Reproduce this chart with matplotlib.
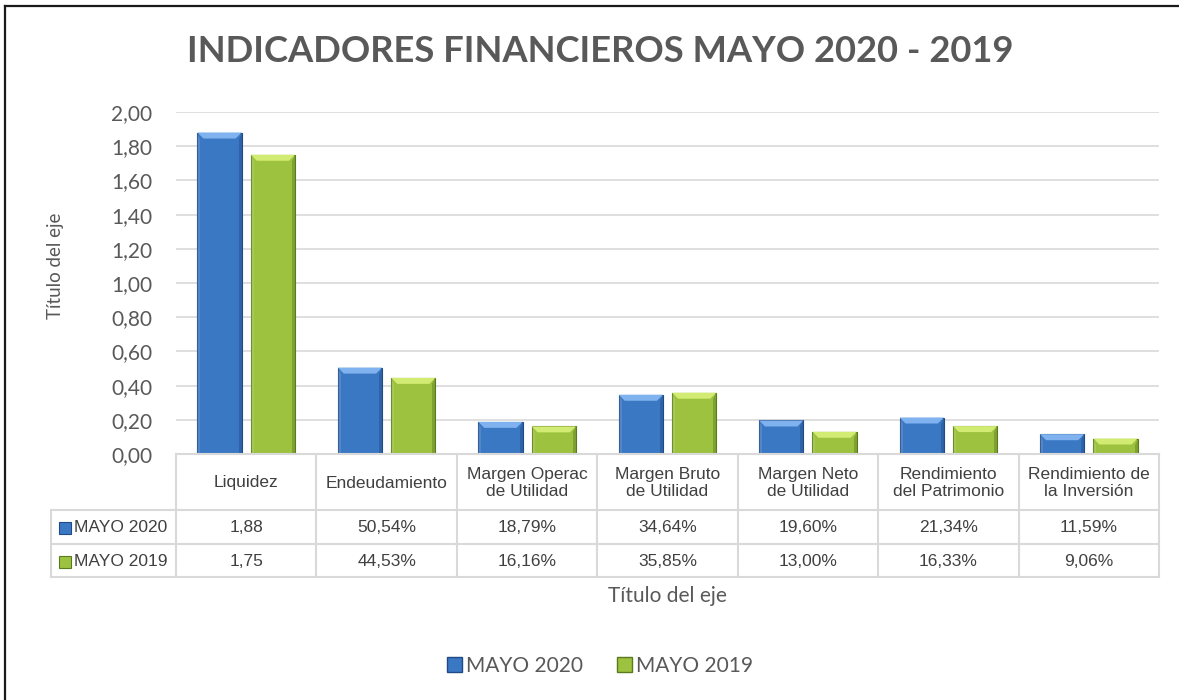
import matplotlib.pyplot as plt
import numpy as np
from matplotlib.lines import Line2D
from matplotlib.patches import Patch

categorias = ['Liquidez', 'Endeudamiento', 'Margen Operac\nde Utilidad', 'Margen Bruto\nde Utilidad',
              'Margen Neto\nde Utilidad', 'Rendimiento\ndel Patrimonio', 'Rendimiento de\nla Inversión']
mayo_2020 = [1.88, 0.5054, 0.1879, 0.3464, 0.1960, 0.2134, 0.1159]
mayo_2019 = [1.75, 0.4453, 0.1616, 0.3585, 0.1300, 0.1633, 0.0906]
texto_2020 = ['1,88', '50,54%', '18,79%', '34,64%', '19,60%', '21,34%', '11,59%']
texto_2019 = ['1,75', '44,53%', '16,16%', '35,85%', '13,00%', '16,33%', '9,06%']
series = ['MAYO 2020', 'MAYO 2019']
yticks = np.arange(0, 2.01, 0.2)

W, H = 1179, 700
gris = '#595959'
azul, azul_claro, azul_osc = '#3B78C4', '#7FB2EE', '#1F4A85'
verde, verde_claro, verde_osc = '#9CC23F', '#D2EB72', '#5B7A1E'
font_calibri = ['Lato', 'DejaVu Sans']
font_tabla = ['Liberation Sans Narrow', 'Liberation Sans', 'DejaVu Sans']

fig = plt.figure(figsize=(W / 100, H / 100), dpi=100)

def caja(x0, y0, x1, y1):
    # pixel box (top-left origin) -> figure fraction rect
    return [x0 / W, 1 - y1 / H, (x1 - x0) / W, (y1 - y0) / H]

# --- main bar axes
ax = fig.add_axes(caja(176, 112, 1159, 454))
x = np.arange(len(categorias))
ancho = 0.315
desp = 0.19

def barras_bisel(vals, pos, c, c_claro, c_osc):
    bars = ax.bar(pos, vals, width=ancho, color=c, edgecolor=c_osc, linewidth=0.8, zorder=3)
    dx = 6 / 140.4
    dy = 6 / 171.0
    for b in bars:
        x0, w, h = b.get_x(), b.get_width(), b.get_height()
        d = min(dy, h / 2)
        # top bevel
        ax.fill([x0, x0 + w, x0 + w - dx, x0 + dx], [h, h, h - d, h - d],
                color=c_claro, zorder=4, lw=0)
        # right darker side
        ax.fill([x0 + w, x0 + w, x0 + w - dx * 0.5, x0 + w - dx * 0.5],
                [h, 0, 0, h - d], color=c_osc, alpha=0.45, zorder=4, lw=0)
        # left lighter side
        ax.fill([x0, x0, x0 + dx * 0.5, x0 + dx * 0.5],
                [h, 0, 0, h - d], color='white', alpha=0.12, zorder=4, lw=0)
    return bars

barras_bisel(mayo_2020, x - desp, azul, azul_claro, azul_osc)
barras_bisel(mayo_2019, x + desp, verde, verde_claro, verde_osc)

ax.set_xlim(-0.5, len(categorias) - 0.5)
ax.set_ylim(0, 2.0)
ax.set_yticks(yticks)
ax.set_yticklabels([f'{v:.2f}'.replace('.', ',') for v in yticks],
                   fontsize=15, color=gris, family=font_calibri)
ax.set_xticks([])
ax.tick_params(axis='y', length=0, pad=17)
ax.grid(axis='y', color='#D9D9D9', linewidth=1.2, zorder=0)
for s in ax.spines.values():
    s.set_visible(False)
ax.set_facecolor('none')

# --- data table below the axis
izq = -0.5 - (176 - 51) / 140.4
tab = fig.add_axes(caja(51, 454, 1159, 577))
tab.set_xlim(izq, len(categorias) - 0.5)
tab.set_ylim(577, 454)
tab.axis('off')
filas = [454, 510, 544, 577]
lc = '#D9D9D9'
tab.plot([-0.5, len(categorias) - 0.5], [filas[0]] * 2, color=lc, lw=1.5, clip_on=False)
for f in filas[1:]:
    tab.plot([izq, len(categorias) - 0.5], [f, f], color=lc, lw=1.5, clip_on=False)
tab.plot([izq, izq], [filas[1], filas[3]], color=lc, lw=1.5, clip_on=False)
for k in range(len(categorias) + 1):
    tab.plot([k - 0.5, k - 0.5], [filas[0], filas[3]], color=lc, lw=1.5, clip_on=False)

fs_tab = 12.5
for i, cat in enumerate(categorias):
    tab.text(i, (filas[0] + filas[1]) / 2 + 1, cat, ha='center', va='center', fontsize=fs_tab,
             color='#404040', family=font_tabla, linespacing=1.2)
    tab.text(i, (filas[1] + filas[2]) / 2 + 1, texto_2020[i], ha='center', va='center',
             fontsize=fs_tab, color='#404040', family=font_tabla)
    tab.text(i, (filas[2] + filas[3]) / 2 + 1, texto_2019[i], ha='center', va='center',
             fontsize=fs_tab, color='#404040', family=font_tabla)

for j, (nombre, c, co) in enumerate([(series[0], azul, azul_osc), (series[1], verde, verde_osc)]):
    yc = (filas[j + 1] + filas[j + 2]) / 2 + 1
    tab.plot([izq + 0.1], [yc], marker='s', markersize=8.5, color=c, markeredgecolor=co,
             markeredgewidth=0.8, clip_on=False)
    tab.text(izq + 0.165, yc, nombre, ha='left', va='center', fontsize=fs_tab,
             color='#404040', family=font_tabla)

# --- titles
fig.text(600 / W, 1 - 51 / H, 'INDICADORES FINANCIEROS MAYO 2020 - 2019', ha='center', va='center',
         fontsize=26.2, fontweight='bold', color=gris, family=font_calibri)
fig.text(56 / W, 1 - 266 / H, 'Título del eje', rotation=90, ha='center', va='center',
         fontsize=13.5, color=gris, family=font_calibri)
fig.text(667 / W, 1 - 596 / H, 'Título del eje', ha='center', va='center',
         fontsize=15, color=gris, family=font_calibri)

# --- legend
handles = [Patch(facecolor=azul, edgecolor=azul_osc), Patch(facecolor=verde, edgecolor=verde_osc)]
fig.legend(handles, series, loc='center', bbox_to_anchor=(600 / W, 1 - 666 / H), ncol=2,
           frameon=False, handlelength=0.75, handleheight=0.75, handletextpad=0.2,
           columnspacing=1.6, prop={'family': font_calibri, 'size': 15}, labelcolor=gris)

# --- outer frame (only left and top visible)
fig.add_artist(Line2D([5 / W, 5 / W], [0, 1 - 6 / H], color='#1a1a1a', lw=1.6))
fig.add_artist(Line2D([5 / W, 1], [1 - 6 / H, 1 - 6 / H], color='#1a1a1a', lw=1.6))

fig.savefig('out.png', dpi=100, facecolor='white')
